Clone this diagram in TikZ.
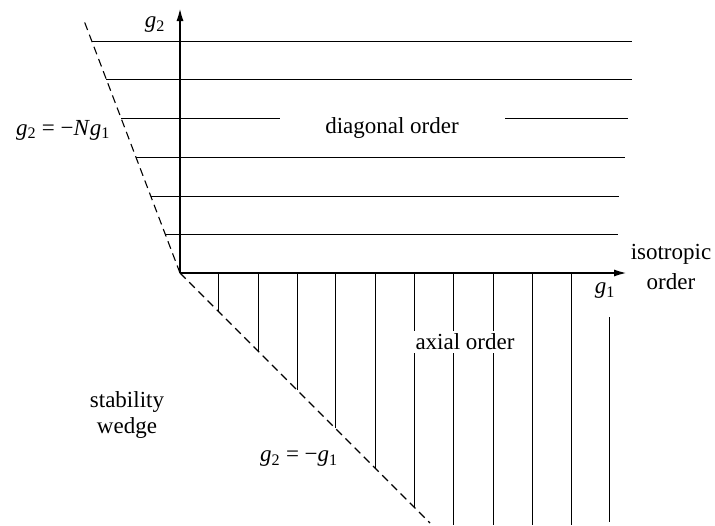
\documentclass[tikz,border=0pt]{standalone}
\usepackage{fontspec}
\setmainfont{Liberation Serif}
\usetikzlibrary{arrows.meta}
\newcommand{\gsub}[1]{\textit{g}\textsubscript{#1}}
\begin{document}
\begin{tikzpicture}[x=1pt,y=-1pt,
  axis/.style={line width=2.4pt,-{Latex[length=14pt,width=7pt]}},
  hline/.style={line width=0.9pt},
  vline/.style={line width=0.9pt},
  bound/.style={line width=1.1pt,dash pattern=on 8pt off 5pt},
  lbl/.style={font=\fontsize{23}{30}\selectfont,inner sep=1pt},
  wlbl/.style={lbl,fill=white,inner sep=3pt},
]
\useasboundingbox (0,0) rectangle (715,525);
\coordinate (O) at (180,273);
\coordinate (Ntop) at (83,18);
\coordinate (Dbot) at (430,523);
\coordinate (Ytip) at (180,7);
\coordinate (Xtip) at (628,273);
% horizontal lines (diagonal order)
\foreach \y/\xl/\xr in {41/91.7/632, 79/106.2/632, 157/135.9/625, 196/150.7/619, 234/165.2/618}{
  \coordinate (hl\y) at (\xl,\y);
  \coordinate (hr\y) at (\xr,\y);
  \draw[hline] (hl\y) -- (hr\y);
}
\coordinate (hl118) at (121,118);
\coordinate (hm118a) at (280,118);
\coordinate (hm118b) at (505,118);
\coordinate (hr118) at (628,118);
\draw[hline] (hl118) -- (hm118a);
\draw[hline] (hm118b) -- (hr118);
% vertical lines (axial order)
\foreach \x/\yb in {218/311, 258/351, 297/390, 335/428, 375/468, 414/507, 453/525, 493/525, 532/525, 571/525}{
  \coordinate (vt\x) at (\x,273);
  \coordinate (vb\x) at (\x,\yb);
  \draw[vline] (vt\x) -- (vb\x);
}
\coordinate (vt609) at (609,317);
\coordinate (vb609) at (609,522);
\draw[vline] (vt609) -- (vb609);
% boundaries
\draw[bound] (O) -- (Ntop);
\draw[bound] (O) -- (Dbot);
% axes
\draw[axis] (O) -- (Ytip);
\draw[axis] (O) -- (Xtip);
% labels
\node[lbl] (lg2) at (155,25) {\gsub{2}};
\node[lbl] (lg1) at (605,291) {\gsub{1}};
\node[lbl] (lN) at (63,130) {\gsub{2} = −\textit{N}\gsub{1}};
\node[lbl] (ldiag) at (392,128) {diagonal order};
\node[wlbl] (lax) at (465,342) {axial order};
\node[lbl,align=center] (liso) at (671,267) {isotropic\\order};
\node[lbl,align=center] (lwedge) at (127,415) {stability\\[-4pt]wedge};
\node[lbl] (ld) at (299,459) {\gsub{2} = −\gsub{1}};
\end{tikzpicture}
\end{document}
